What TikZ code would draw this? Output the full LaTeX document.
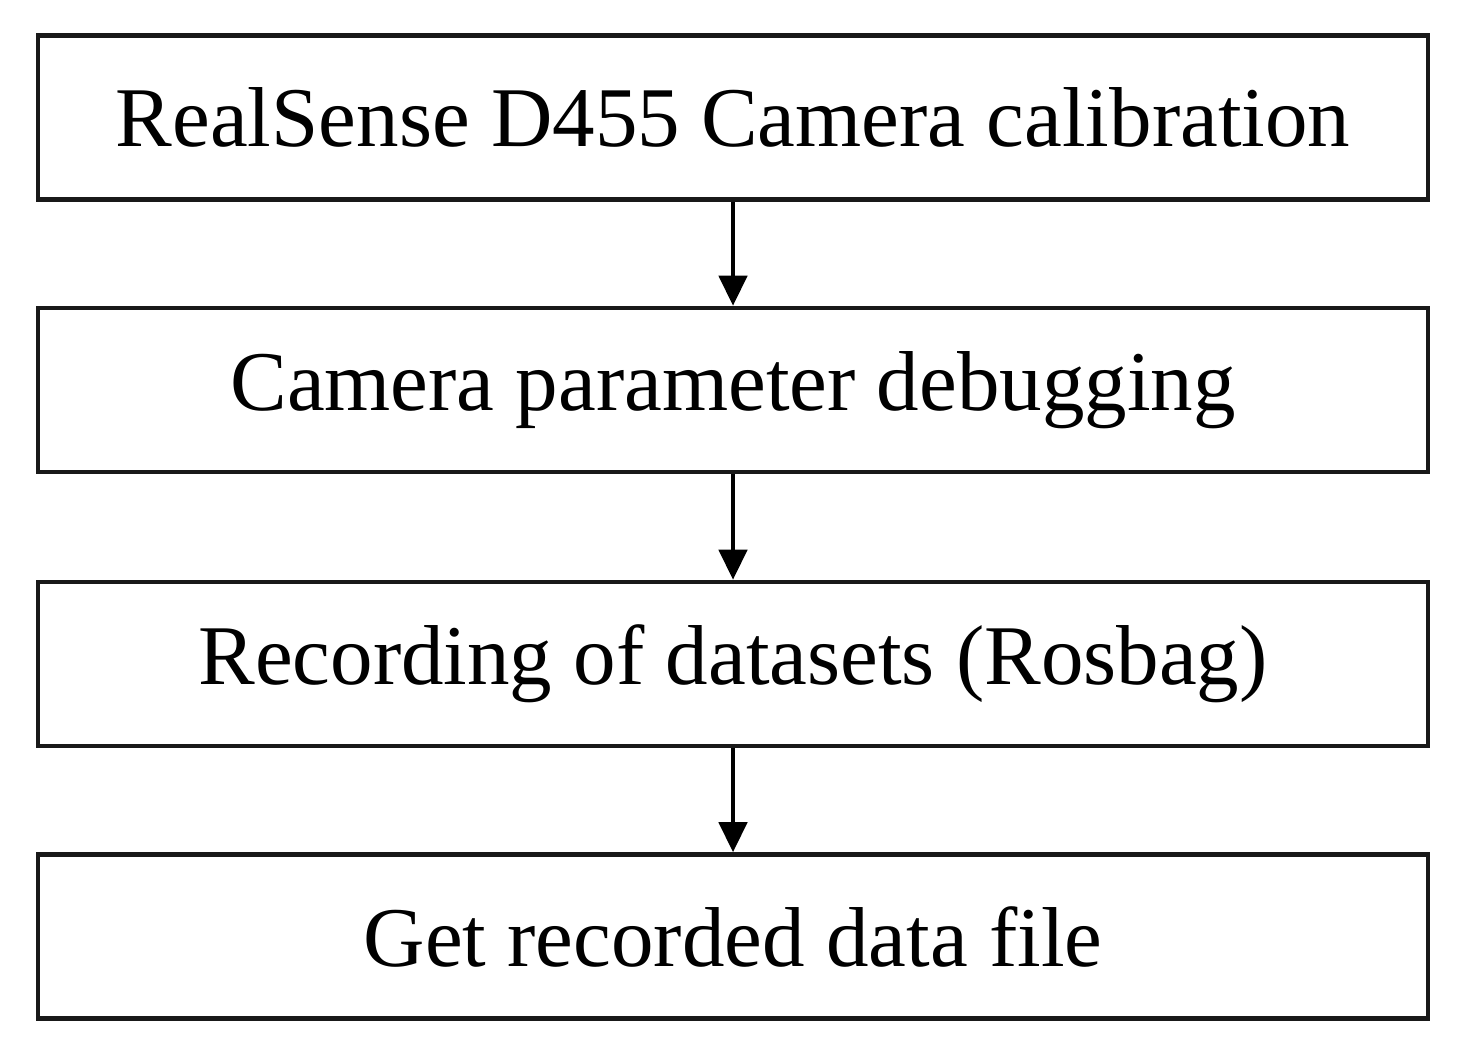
\documentclass[tikz,border=0pt]{standalone}
\usepackage{fontspec}
\setmainfont{Liberation Serif}
\usetikzlibrary{arrows.meta}
\begin{document}
\begin{tikzpicture}[x=1pt,y=1pt,
  stepbox/.style={draw=black!90, line width=4.5pt, minimum width=1390pt, minimum height=164pt, inner sep=0pt, font=\fontsize{85}{90}\selectfont},
  conn/.style={line width=4.5pt, -{Triangle[width=28pt,length=30pt]}}]
\useasboundingbox (0,0) rectangle (1464,1046);
\node[stepbox] (a) at (733,928.5) {RealSense D455 Camera calibration};
\node[stepbox] (b) at (733,656) {Camera parameter debugging};
\node[stepbox] (c) at (733,382) {Recording of datasets (Rosbag)};
\node[stepbox] (d) at (733,109.5) {Get recorded data file};
\draw[conn] (a.south) -- (b.north);
\draw[conn] (b.south) -- (c.north);
\draw[conn] (c.south) -- (d.north);
\end{tikzpicture}
\end{document}
